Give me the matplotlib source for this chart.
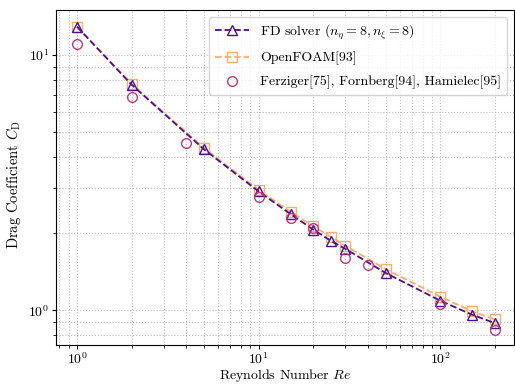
import matplotlib
matplotlib.use("Agg")
import matplotlib.pyplot as plt

plt.rcParams['font.family'] = 'serif'
plt.rcParams['font.serif'] = ['cmr10', 'DejaVu Serif']
plt.rcParams['mathtext.fontset'] = 'cm'
plt.rcParams['axes.formatter.use_mathtext'] = True
plt.rcParams['font.size'] = 10
plt.rcParams['xtick.major.size'] = 3
plt.rcParams['ytick.major.size'] = 3
plt.rcParams['xtick.minor.size'] = 2
plt.rcParams['ytick.minor.size'] = 2
plt.rcParams['xtick.major.pad'] = 1.5
plt.rcParams['ytick.major.pad'] = 2

# FD solver
re_fd = [1, 2, 5, 10, 15, 20, 25, 30, 50, 100, 150, 200]
cd_fd = [12.9, 7.64, 4.27, 2.92, 2.38, 2.07, 1.87, 1.74, 1.40, 1.09, 0.96, 0.89]

# OpenFOAM
re_of = [1, 2, 5, 10, 15, 20, 25, 30, 50, 100, 150, 200]
cd_of = [12.9, 7.70, 4.32, 2.96, 2.43, 2.13, 1.94, 1.79, 1.45, 1.13, 0.99, 0.92]

# Literature (Ferziger, Fornberg, Hamielec)
re_lit = [1, 2, 4, 10, 15, 20, 30, 40, 100, 200]
cd_lit = [11.0, 6.84, 4.53, 2.77, 2.29, 2.09, 1.60, 1.51, 1.06, 0.84]

fig, ax = plt.subplots(figsize=(5.15, 3.86), dpi=100)
fig.subplots_adjust(left=0.109, right=0.998, top=0.974, bottom=0.106)

ax.plot(re_fd, cd_fd, '--^', color='#4b0f8f', mfc='none', ms=7, lw=1.3,
        label=r'FD solver ($n_\eta = 8, n_\xi = 8$)', zorder=3)
ax.plot(re_of, cd_of, '--s', color='#fdae6b', mfc='none', ms=7, lw=1.3,
        label='OpenFOAM[93]', zorder=2)
ax.plot(re_lit, cd_lit, 'o', color='#c0397a', mfc='none', ms=7,
        label='Ferziger[75], Fornberg[94], Hamielec[95]', zorder=4)

ax.set_xscale('log')
ax.set_yscale('log')
ax.set_xlim(0.767, 255)
ax.set_ylim(0.73, 15)
ax.grid(True, which='both', color='#bbbbbb', ls=':', lw=0.8)
ax.tick_params(labelsize=10)

ax.set_xlabel(r'Reynolds Number $Re$', fontsize=10)
ax.set_ylabel(r'Drag Coefficient $C_\mathrm{D}$', fontsize=10.5)
ax.xaxis.set_label_coords(0.5, -0.066)
ax.yaxis.set_label_coords(-0.072, 0.48)
ax.legend(loc='upper right', fontsize=10, framealpha=0.8,
          labelspacing=0.75, handlelength=2.5)

fig.savefig('out.png', dpi=100)
